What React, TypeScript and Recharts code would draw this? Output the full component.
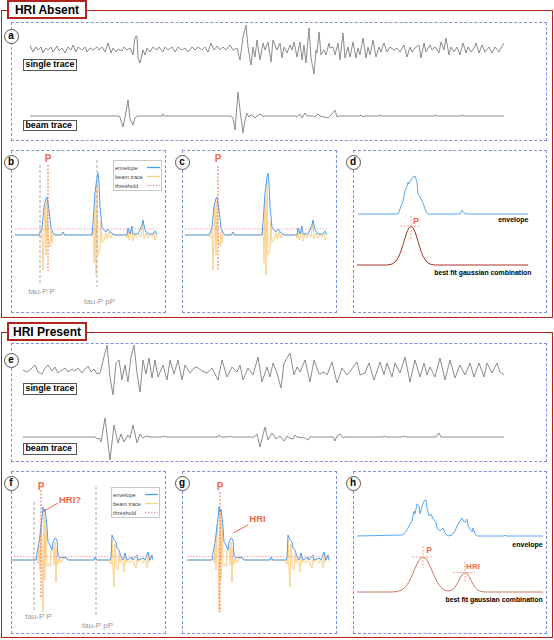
import React from 'react'
import { LineChart, Line, XAxis, YAxis, ReferenceLine } from 'recharts'

type Pt = [number, number]

// ---- panel a: HRI absent, single station + beam (t in samples, amplitude in counts) ----
const singleA: Pt[] = [
  [0, 3], [3, -4], [6, 1], [8, -2], [11, 1], [13, -5], [16, 0], [18, -2], [21, 1], [23, -4], [27, 2], [29, -3], [32, 0], [35, -5],
  [38, 1], [41, -2], [43, 3], [46, -4], [48, 1], [52, -2], [55, 1], [57, -4], [60, 0], [63, -2], [67, 1], [69, -2], [72, 1], [75, -4],
  [78, 5], [81, -5], [83, 0], [86, -4], [88, -1], [92, -3], [94, 1], [97, -2], [100, 0], [103, -7], [105, 11], [107, 12], [108, -10],
  [110, -15], [113, -2], [115, -7], [117, 0], [120, -4], [123, 1], [127, -2], [129, 1], [133, -4], [135, 1], [138, -2], [142, 1],
  [145, -4], [148, 1], [152, -2], [155, 0], [158, -4], [162, 1], [165, -2], [168, 1], [172, -2], [175, 1], [178, -4], [181, 5],
  [184, -2], [187, 2], [190, -2], [193, 1], [196, -2], [200, 3], [203, -2], [207, 0], [210, -12], [213, 11], [216, 23], [218, 1],
  [221, -17], [223, 1], [225, -9], [227, 8], [230, -12], [233, 5], [235, -2], [238, 6], [241, -14], [243, 8], [247, -2], [250, 5],
  [252, -10], [254, 1], [257, -5], [260, 3], [262, -2], [264, 6], [267, -9], [270, 6], [272, -12], [274, 3], [276, -15], [279, 20],
  [281, -10], [284, -26], [286, -2], [287, -5], [289, 16], [291, -7], [294, -2], [296, -7], [299, 5], [300, 0], [303, 1], [305, -7],
  [308, 5], [310, -12], [313, 15], [315, -10], [318, 1], [320, -9], [323, 6], [326, -10], [328, 0], [330, -7], [333, 10], [336, -10],
  [338, 1], [340, -7], [343, 8], [346, -9], [349, 1], [351, -4], [354, 5], [357, -4], [360, 1], [364, -2], [367, 0], [370, -4],
  [374, 3], [377, -9], [380, 1], [382, -4], [385, 0], [389, 3], [391, -10], [394, 5], [396, -4], [400, 3], [402, -2], [405, 1],
  [409, -5], [411, 6], [414, -2], [416, 10], [419, -7], [421, 1], [424, -4], [427, 1], [430, -7], [433, 5], [436, -5], [438, 1],
  [441, -4], [444, 0], [446, 5], [449, -5], [452, 3], [455, -4], [459, 1], [462, -5], [465, 1], [469, -4], [471, 0], [474, 5],
]
const beamA: Pt[] = [
  [0, 0], [88, 0], [90, -1], [93, -11], [96, 4], [98, 16], [100, -3], [103, -9], [105, -2], [107, 0], [132, 0], [133, 2], [134, 0],
  [201, 0], [203, -2], [205, -14], [208, 24], [210, 6], [213, -17], [215, -4], [217, 3], [219, -1], [221, 1], [223, 0], [225, -2],
  [227, 0], [229, 1], [231, 2], [233, -1], [235, 0], [265, 0], [267, -1], [270, 2], [272, -2], [275, 3], [277, 0], [283, 0],
  [285, -1], [288, 2], [290, 0], [298, -2], [301, 1], [305, 6], [307, -1], [309, 0], [329, 0], [331, 1], [333, -1], [335, 0],
  [349, 0], [350, 1], [352, 0], [404, 0], [405, 1], [407, 0], [431, 0], [432, 1], [434, 0], [474, 0],
]

// ---- panels b/c: envelope, beam, threshold ----
const envB: Pt[] = [
  [0, 0], [24, 0], [27, 7], [29, 28], [31, 37], [32, 38], [34, 25], [36, 7], [38, 2], [40, 0], [46, 0], [48, 3], [50, 0], [77, 0],
  [78, 12], [80, 42], [82, 58], [83, 62], [84, 52], [85, 28], [87, 8], [89, 5], [91, 3], [93, 6], [96, 2], [100, 0], [112, 0],
  [113, 7], [115, 1], [117, 9], [118, 1], [123, 1], [127, 10], [128, 15], [130, 5], [133, 1], [138, 1], [140, 4], [142, 0],
]
const beamB: Pt[] = [
  [0, 0], [24, 0], [26, -3], [27, 6], [28, -35], [30, 30], [31, -20], [32, 34], [33, -5], [35, -12], [36, 4], [37, -8],
  [38, 1], [40, 0], [47, 0], [48, 2], [49, -1], [50, 0], [77, 0], [78, 8], [79, -28], [80, 38], [81, -40], [82, 54], [83, -20],
  [85, -15], [86, 14], [87, -8], [89, -5], [91, 2], [92, -4], [94, 3], [96, -3], [98, 1], [100, 0], [111, 0],
  [112, -3], [113, 5], [114, -5], [116, 2], [117, 7], [118, -6], [120, 1], [122, -3], [124, 1], [126, -2], [128, 12],
  [129, -4], [131, 2], [133, -3], [135, 1], [137, -2], [139, 2], [140, -5], [142, -2],
]
const thresholdB = 6

// ---- panel d: envelope and fitted gaussian ----
const envD: Pt[] = [
  [0, 0], [40, 0], [42, 5], [45, 13], [47, 23], [49, 28], [50, 32], [51, 30], [53, 34], [55, 37], [57, 38], [59, 32], [60, 20],
  [62, 17], [64, 13], [66, 8], [68, 2], [70, 0], [102, 0], [104, 4], [106, 1], [108, 0], [170, 0],
]
const gaussD: Pt[] = [
  [0, 0], [30, 0], [32, 0.3], [34, 0.7], [36, 1.4], [38, 2.9], [40, 5.3], [42, 9], [44, 14], [46, 20.3], [48, 27], [50, 33.1],
  [52, 37.4], [54, 39], [56, 37.4], [58, 33.1], [60, 27], [62, 20.3], [64, 14], [66, 9], [68, 5.3], [70, 2.9], [72, 1.4],
  [74, 0.7], [76, 0.3], [78, 0], [171, 0],
]

// ---- panel e: HRI present, single station + beam ----
const singleE: Pt[] = [
  [0, 0], [4, -2], [8, 1], [12, 5], [15, -2], [19, -4], [22, 2], [25, 5], [29, -1], [32, 3], [35, -3], [39, 0], [42, 2], [45, -2],
  [49, 1], [52, -1], [55, 2], [59, -3], [62, 1], [65, 4], [68, -2], [71, 1], [74, -4], [77, -3], [81, 13], [84, 25], [87, -7],
  [90, -25], [93, 7], [96, 10], [99, -10], [102, 5], [105, -12], [108, 13], [111, 25], [114, -3], [117, -22], [120, 10], [123, -4],
  [126, 12], [129, -8], [132, 10], [135, -7], [140, 5], [144, -10], [147, 10], [151, -4], [155, 10], [159, -10], [162, 5],
  [167, -3], [171, 2], [174, 3], [179, -1], [184, -3], [189, 2], [195, -10], [199, 10], [204, -7], [209, 3], [214, -2], [217, 5],
  [220, -10], [225, 2], [230, -5], [235, 13], [239, -12], [244, 3], [247, -7], [250, 7], [254, -3], [258, -18], [261, 7],
  [267, 17], [271, -5], [274, 3], [277, -2], [282, 10], [287, -12], [291, 10], [296, -4], [301, -2], [304, -5], [309, 8],
  [314, -13], [319, 2], [324, -5], [328, 0], [334, 8], [337, -5], [342, -3], [346, 7], [351, -10], [357, 8], [361, -5], [364, 7],
  [369, -7], [372, 7], [377, -3], [382, 13], [387, -12], [392, 10], [397, -7], [401, 7], [404, -5], [407, 3], [412, -7], [417, 12],
  [422, -10], [427, 10], [432, -8], [437, 5], [442, -5], [447, 7], [451, -7], [456, 7], [461, -7], [464, 7], [469, -3], [474, 7],
  [477, -2], [481, -5],
]
const beamE: Pt[] = [
  [0, 0], [72, 0], [74, -2], [76, -1], [78, -5], [82, 19], [87, -23], [91, 12], [95, -6], [98, 3], [101, -5], [105, 2], [107, -1],
  [110, 12], [114, -6], [117, 3], [120, -1], [123, 1], [127, 0], [139, 0], [140, 1], [142, 0], [195, 0], [196, 2], [198, 0],
  [206, 0], [207, 1], [209, 0], [231, 0], [234, 3], [237, -10], [242, 10], [245, -3], [249, 4], [253, -2], [257, 1], [261, -4],
  [264, 1], [267, -1], [270, -2], [272, 2], [274, 0], [282, -1], [285, -3], [287, 0], [310, 0], [312, -4], [314, 1], [317, 3],
  [320, -1], [322, 0], [360, 0], [361, 1], [363, 0], [380, 0], [381, 1], [383, 0], [413, 0], [416, 4], [418, 0], [481, 0],
]

// ---- panels f/g ----
const envF: Pt[] = [
  [0, 0], [25, 0], [26, 7], [28, 17], [31, 42], [32, 53], [33, 48], [34, 51], [36, 33], [37, 18], [39, 15], [41, 10], [42, 18],
  [44, 22], [46, 20], [47, 5], [49, 2], [55, 3], [57, 0], [83, 0], [84, 3], [86, 0], [99, 0], [100, 3], [101, 25], [103, 20],
  [105, 18], [106, 12], [108, 10], [110, 3], [112, 0], [114, 7], [116, 0], [121, 3], [122, 0], [126, 5], [127, 0], [132, 2],
  [134, 0], [137, 8], [139, 0], [141, 5], [142, 0],
]
const beamF: Pt[] = [
  [0, 0], [25, 0], [26, 4], [27, -3], [28, 15], [29, -10], [30, 36], [31, 18], [32, -52], [33, 48], [34, -20], [35, 40], [36, -6],
  [38, -4], [39, -7], [40, 10], [42, 14], [43, -5], [44, 18], [45, -22], [46, 12], [47, -4], [48, 2], [50, -3], [52, 1],
  [55, 2], [57, 0], [83, 0], [84, 2], [85, -1], [86, 0], [99, 0], [100, -4], [101, 20], [102, -10], [103, -27], [104, 16],
  [105, -6], [107, -10], [108, 6], [109, -3], [110, 2], [112, -2], [113, -12], [114, 5], [115, -3], [116, 0],
  [119, -3], [121, 2], [123, -4], [125, -8], [126, 3], [127, -2], [129, 1], [132, -3], [134, 1], [136, -8], [137, 6], [138, -3],
  [140, 3], [142, -1],
]
const thresholdF = 3.5

// ---- panel h ----
const envH: Pt[] = [
  [0, 0], [46, 1], [50, 6], [52, 10], [55, 15], [57, 25], [58, 22], [60, 32], [62, 30], [63, 22], [65, 30], [67, 35], [69, 36],
  [70, 28], [72, 20], [74, 22], [76, 17], [79, 14], [80, 8], [83, 5], [86, 8], [88, 3], [91, 0], [95, 1], [98, 5], [100, 10],
  [103, 15], [105, 18], [106, 15], [108, 14], [110, 17], [111, 11], [113, 7], [115, 4], [116, 8], [118, 2], [120, 0], [147, 0],
  [148, 1], [149, 0], [186, 0],
]
const gaussH: Pt[] = [
  [0, 0], [34, 0], [36, 0.1], [38, 0.3], [40, 0.5], [42, 1], [44, 1.8], [46, 3], [48, 4.7], [50, 7.2], [52, 10.4], [54, 14.4],
  [56, 18.9], [58, 23.6], [60, 28], [62, 31.7], [64, 34.1], [66, 35], [68, 34.1], [70, 31.7], [72, 28], [74, 23.6], [76, 18.9],
  [78, 14.4], [80, 10.4], [82, 7.2], [84, 4.7], [86, 3], [88, 1.8], [90, 1.2], [92, 1.1], [94, 1.6], [96, 2.7], [98, 4.9],
  [100, 8], [102, 11.8], [104, 15.6], [106, 18.4], [108, 19.5], [110, 18.4], [112, 15.6], [114, 11.8], [116, 8], [118, 4.9],
  [120, 2.6], [122, 1.3], [124, 0.6], [126, 0.2], [128, 0], [186, 0],
]

const RED = '#b3241a'
const BLUE_DASH = '#7d92d9'
const GRAY = '#8c8c8c'
const ENV = '#4a9ff5'
const BEAM = '#fdd08a'
const PICK = '#f06a4a'
const THR = '#f4a4a4'
const TAU = '#a8a8a8'
const CROSS = '#f8a088'

const legendItems = [
  { name: 'envelope', color: ENV, dash: undefined },
  { name: 'beam trace', color: BEAM, dash: undefined },
  { name: 'threshold', color: THR, dash: '1.5 1.5' },
]

type Series = { data: Pt[]; color: string; w?: number }
type Ref = { seg: [Pt, Pt]; color: string; dash?: string; w?: number }

const Trace = ({ left, top, width, height, xMax, yDom, series, refs = [] }: {
  left: number; top: number; width: number; height: number; xMax: number; yDom: [number, number]; series: Series[]; refs?: Ref[]
}) => (
  <div style={{ position: 'absolute', left, top }}>
    <LineChart width={width} height={height} margin={{ top: 0, right: 0, bottom: 0, left: 0 }}>
      <XAxis type="number" dataKey="t" domain={[0, xMax]} hide allowDataOverflow />
      <YAxis type="number" domain={yDom} hide allowDataOverflow />
      {series.map((s, i) => (
        <Line key={'s' + i} data={s.data.map(([t, v]) => ({ t, v }))} dataKey="v" type="linear" stroke={s.color}
          strokeWidth={s.w ?? 1} dot={false} activeDot={false} isAnimationActive={false} />
      ))}
      {refs.map((r, i) => (
        <ReferenceLine key={'r' + i} segment={[{ x: r.seg[0][0], y: r.seg[0][1] }, { x: r.seg[1][0], y: r.seg[1][1] }]}
          stroke={r.color} strokeDasharray={r.dash} strokeWidth={r.w ?? 1} ifOverflow="visible" />
      ))}
    </LineChart>
  </div>
)

const Txt = ({ x, y, size, color = '#000', bold = false, anchor = 'middle', children }: {
  x: number; y: number; size: number; color?: string; bold?: boolean; anchor?: 'start' | 'middle' | 'end'; children: React.ReactNode
}) => (
  <div style={{
    position: 'absolute', left: x, top: y, fontSize: size, color, fontWeight: bold ? 700 : 400, whiteSpace: 'nowrap', lineHeight: 1,
    transform: anchor === 'middle' ? 'translate(-50%,-50%)' : anchor === 'end' ? 'translate(-100%,-50%)' : 'translate(0,-50%)',
  }}>{children}</div>
)

const Box = ({ left, top, width, height, style }: { left: number; top: number; width: number; height: number; style: React.CSSProperties }) => (
  <div style={{ position: 'absolute', left, top, width, height, boxSizing: 'border-box', ...style }} />
)

const Panel = ({ left, top, right, bottom }: { left: number; top: number; right: number; bottom: number }) => (
  <Box left={left} top={top} width={right - left} height={bottom - top} style={{ border: `1px dashed ${BLUE_DASH}` }} />
)

const Tag = ({ cx, cy, letter }: { cx: number; cy: number; letter: string }) => (
  <div style={{
    position: 'absolute', left: cx - 7.5, top: cy - 7.5, width: 15, height: 15, boxSizing: 'border-box', borderRadius: '50%',
    border: '1px solid #555', background: '#fff', fontSize: 10, fontWeight: 700, display: 'flex', alignItems: 'center',
    justifyContent: 'center', lineHeight: 1,
  }}>{letter}</div>
)

const Title = ({ top, text }: { top: number; text: string }) => (
  <div style={{
    position: 'absolute', left: 7, top, width: 80, height: 19, boxSizing: 'border-box', border: `2px solid ${RED}`,
    background: '#fff', fontSize: 12, fontWeight: 700, display: 'flex', alignItems: 'center', justifyContent: 'center',
  }}>{text}</div>
)

const TraceLabel = ({ top, text }: { top: number; text: string }) => (
  <div style={{
    position: 'absolute', left: 23, top, width: 54, height: 11.5, boxSizing: 'border-box', border: '1px solid #555',
    background: '#fff', fontSize: 8.8, fontWeight: 700, display: 'flex', alignItems: 'center', paddingLeft: 1.5, lineHeight: 1,
    whiteSpace: 'nowrap', overflow: 'hidden',
  }}>{text}</div>
)

const Legend = ({ left, top }: { left: number; top: number }) => (
  <div style={{
    position: 'absolute', left, top, width: 49, height: 31, boxSizing: 'border-box', border: '1px solid #c8c8c8',
    background: '#fff', padding: '2px 1px',
  }}>
    {legendItems.map(it => (
      <div key={it.name} style={{ display: 'flex', alignItems: 'center', height: 9, fontSize: 5.6, color: '#444' }}>
        <span style={{ flex: 1, whiteSpace: 'nowrap' }}>{it.name}</span>
        <svg width={13} height={3} style={{ display: 'block' }}>
          <line x1={0} y1={1.5} x2={13} y2={1.5} stroke={it.color} strokeWidth={1.3} strokeDasharray={it.dash} />
        </svg>
      </div>
    ))}
  </div>
)

const App = () => {
  const bcDom: [number, number] = [-78, 85]
  const fgDom: [number, number] = [-74, 89]
  return (
    <div style={{
      position: 'absolute', left: 0, top: 0, width: 554, height: 640, background: '#fff', overflow: 'hidden',
      fontFamily: '"Liberation Sans", Arial, sans-serif',
    }}>
      {/* frames */}
      <Box left={1} top={10} width={552} height={308} style={{ border: `1.5px solid ${RED}` }} />
      <Box left={1} top={332} width={552} height={306} style={{ border: `1.5px solid ${RED}` }} />
      <Panel left={11} top={22} right={547} bottom={141} />
      <Panel left={11} top={150} right={166} bottom={313} />
      <Panel left={182} top={150} right={337} bottom={313} />
      <Panel left={353} top={150} right={547} bottom={313} />
      <Panel left={11} top={343} right={547} bottom={462} />
      <Panel left={11} top={471} right={166} bottom={634} />
      <Panel left={182} top={471} right={337} bottom={634} />
      <Panel left={353} top={471} right={547} bottom={634} />

      {/* a */}
      <Trace left={30} top={18} width={474} height={60} xMax={474} yDom={[-30, 30]} series={[{ data: singleA, color: GRAY }]} />
      <Trace left={30} top={86} width={474} height={60} xMax={474} yDom={[-30, 30]} series={[{ data: beamA, color: GRAY }]} />

      {/* b */}
      <Trace left={15} top={150} width={142} height={163} xMax={142} yDom={bcDom}
        series={[{ data: beamB, color: BEAM }, { data: envB, color: ENV }]}
        refs={[
          { seg: [[0, thresholdB], [142, thresholdB]], color: THR, dash: '1.5 1.5' },
          { seg: [[25, 70], [25, -48]], color: TAU, dash: '3 2' },
          { seg: [[82, 75], [82, -52]], color: TAU, dash: '3 2' },
          { seg: [[33, 70], [33, -36]], color: PICK, dash: '2 1.5' },
        ]} />
      {/* c */}
      <Trace left={185} top={150} width={142} height={163} xMax={142} yDom={bcDom}
        series={[{ data: beamB, color: BEAM }, { data: envB, color: ENV }]}
        refs={[
          { seg: [[0, thresholdB], [142, thresholdB]], color: THR, dash: '1.5 1.5' },
          { seg: [[33, 69], [33, -35]], color: PICK, dash: '2 1.5' },
        ]} />
      {/* d */}
      <Trace left={358} top={170} width={170} height={50} xMax={170} yDom={[-6, 44]} series={[{ data: envD, color: '#5aaaf5' }]} />
      <Trace left={357} top={210} width={171} height={65} xMax={171} yDom={[-10, 55]} series={[{ data: gaussD, color: '#a8322a' }]}
        refs={[
          { seg: [[43, 39], [64, 39]], color: CROSS, dash: '2 1.5' },
          { seg: [[54, 49], [54, 25]], color: CROSS, dash: '2 1.5' },
        ]} />

      {/* e */}
      <Trace left={23} top={340} width={481} height={60} xMax={481} yDom={[-30, 30]} series={[{ data: singleE, color: GRAY }]} />
      <Trace left={23} top={407} width={481} height={60} xMax={481} yDom={[-30, 30]} series={[{ data: beamE, color: GRAY }]} />

      {/* f */}
      <Trace left={11} top={471} width={142} height={163} xMax={142} yDom={fgDom}
        series={[{ data: beamF, color: BEAM }, { data: envF, color: ENV }]}
        refs={[
          { seg: [[0, thresholdF], [142, thresholdF]], color: THR, dash: '1.5 1.5' },
          { seg: [[23, 58], [23, -50]], color: TAU, dash: '3 2' },
          { seg: [[85, 73], [85, -57]], color: TAU, dash: '3 2' },
          { seg: [[30, 70], [30, -38]], color: PICK, dash: '2 1.5' },
          { seg: [[33, 49], [47, 57]], color: PICK },
        ]} />
      {/* g */}
      <Trace left={187} top={471} width={143} height={163} xMax={143} yDom={fgDom}
        series={[{ data: beamF, color: BEAM }, { data: envF, color: ENV }]}
        refs={[
          { seg: [[0, thresholdF], [143, thresholdF]], color: THR, dash: '1.5 1.5' },
          { seg: [[33, 68], [33, -52]], color: PICK, dash: '2 1.5' },
          { seg: [[46, 27], [61, 35]], color: PICK },
        ]} />
      {/* h */}
      <Trace left={357} top={486} width={186} height={60} xMax={186} yDom={[-10, 50]} series={[{ data: envH, color: '#5aaaf5' }]} />
      <Trace left={357} top={540} width={186} height={62} xMax={186} yDom={[-10, 52]} series={[{ data: gaussH, color: '#cc7a66' }]}
        refs={[
          { seg: [[55, 35], [76, 35]], color: CROSS, dash: '2 1.5' },
          { seg: [[66, 46], [66, 24]], color: CROSS, dash: '2 1.5' },
          { seg: [[96, 19.5], [118, 19.5]], color: CROSS, dash: '2 1.5' },
          { seg: [[108, 30], [108, 9]], color: CROSS, dash: '2 1.5' },
        ]} />

      {/* titles and labels */}
      <Title top={0} text="HRI Absent" />
      <Title top={322} text="HRI Present" />
      <Tag cx={11} cy={36} letter="a" />
      <Tag cx={11} cy={162} letter="b" />
      <Tag cx={182} cy={162} letter="c" />
      <Tag cx={353} cy={162} letter="d" />
      <Tag cx={11} cy={360} letter="e" />
      <Tag cx={11} cy={483} letter="f" />
      <Tag cx={182} cy={483} letter="g" />
      <Tag cx={353} cy={483} letter="h" />

      <TraceLabel top={59} text="single trace" />
      <TraceLabel top={119.5} text="beam trace" />
      <TraceLabel top={383} text="single trace" />
      <TraceLabel top={443} text="beam trace" />

      <Legend left={113} top={160} />
      <Legend left={111} top={487} />

      <Txt x={48} y={158.5} size={10} color={PICK} bold>P</Txt>
      <Txt x={41.7} y={291.7} size={8} color="#999">tau-P P</Txt>
      <Txt x={99.5} y={301.5} size={8} color="#999">tau-P pP</Txt>
      <Txt x={218} y={159} size={10} color={PICK} bold>P</Txt>
      <Txt x={416} y={221} size={9} color={PICK} bold>P</Txt>
      <Txt x={528.5} y={219} size={7} bold anchor="end">envelope</Txt>
      <Txt x={531.5} y={272.7} size={6.9} bold anchor="end">best fit gaussian combination</Txt>

      <Txt x={41} y={486.5} size={10} color={PICK} bold>P</Txt>
      <Txt x={70} y={500} size={9.5} color={PICK} bold>HRI?</Txt>
      <Txt x={38.5} y={617} size={8} color="#999">tau-P P</Txt>
      <Txt x={97.5} y={626} size={8} color="#999">tau-P pP</Txt>
      <Txt x={220} y={486.5} size={10} color={PICK} bold>P</Txt>
      <Txt x={257.5} y={519} size={9.5} color={PICK} bold>HRI</Txt>
      <Txt x={429} y={549.5} size={8.5} color={PICK} bold>P</Txt>
      <Txt x={473} y={566.7} size={8} color={PICK} bold>HRI</Txt>
      <Txt x={542.7} y={544} size={7} bold anchor="end">envelope</Txt>
      <Txt x={542.7} y={600} size={6.9} bold anchor="end">best fit gaussian combination</Txt>
    </div>
  )
}

export default App
